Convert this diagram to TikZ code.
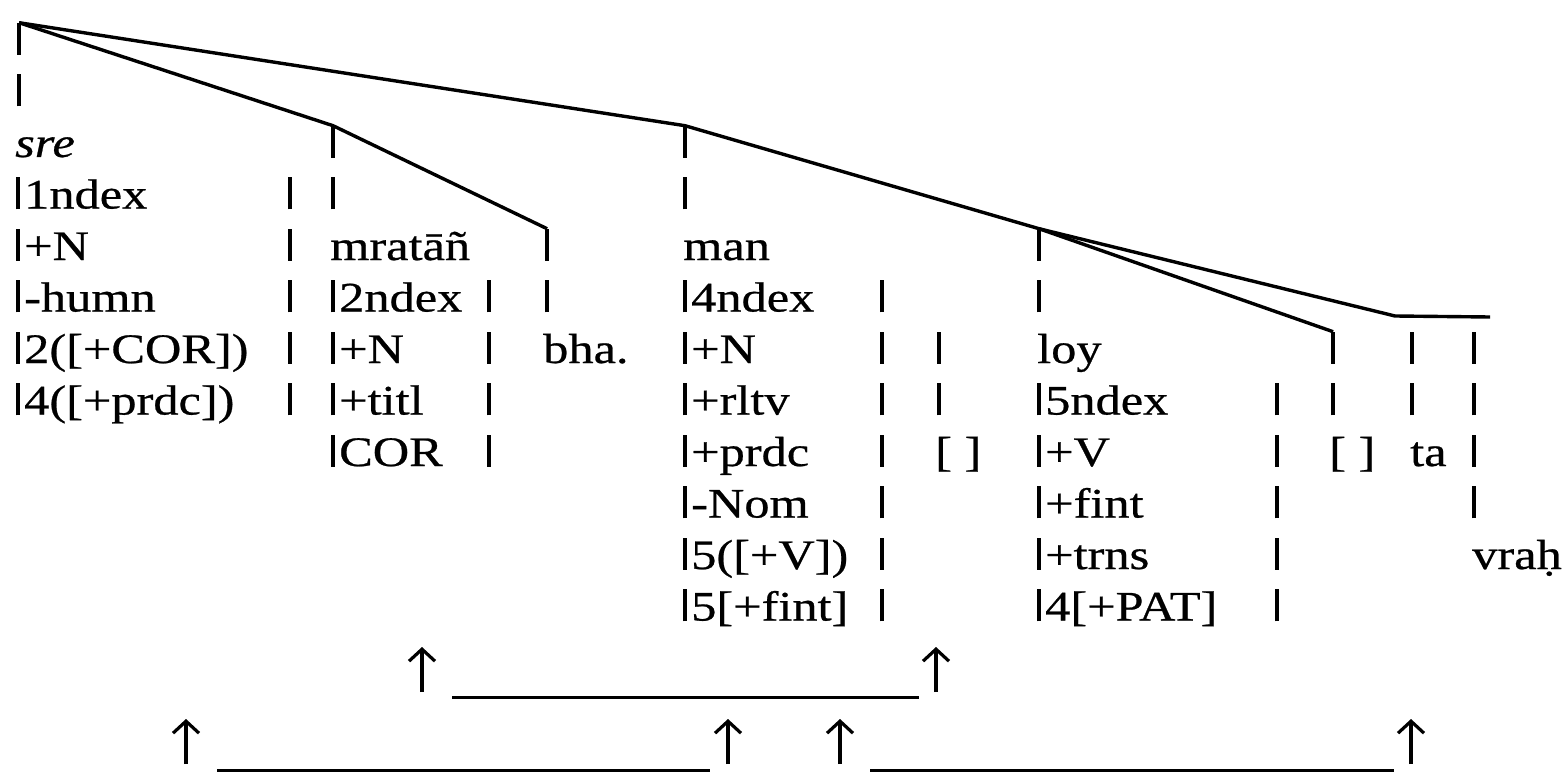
\documentclass[tikz,border=0pt]{standalone}
\usepackage{fontspec}
\setmainfont{Liberation Serif}[FakeStretch=1.2,FakeBold=0.6]
\usetikzlibrary{arrows.meta}
\newcommand\vbar{\rule[-0.02em]{0.09em}{0.76em}}
\newcommand\vb{\vbar\hspace{0.1em}}

\begin{document}
\begin{tikzpicture}[x=1pt,y=-1pt,font=\fontsize{42}{52}\selectfont,
  declare function={rw(\k)=157+51.5*\k;},
  word/.style={anchor=base west,inner sep=0pt},
  tree/.style={line width=3.4pt,line join=round},
  uline/.style={line width=3pt},
  uarr/.style={line width=3.2pt,-{Straight Barb[length=12pt,width=26pt]}}]
\useasboundingbox (0,0) rectangle (1563,773);
\foreach \x/\a/\b/\c in {17/-2/-1/rt,288/1/5/sa,331/0/1/mr,487/3/6/mb,545/2/3/bh,683/0/1/mn,880/3/9/nb,937/4/5/ka,1037/2/3/ly,1275/5/9/lb,1331/4/5/kb,1410/4/5/ta,1472/4/7/vr}
  \foreach \r [count=\i] in {\a,...,\b}
    \node[word] (\c\i) at (\x,{rw(\r)}) {\vbar};
\foreach \x/\r/\t [count=\i] in {15/0/{\textit{sre}},16/1/{\vb 1ndex},16/2/{\vb +N},16/3/{\vb -humn},16/4/{\vb 2([+COR])},16/5/{\vb 4([+prdc])},
  330/2/{mratāñ},331/3/{\vb 2ndex},331/4/{\vb +N},331/5/{\vb +titl},331/6/{\vb COR},543/4/{bha.},
  683/2/{man},683/3/{\vb 4ndex},683/4/{\vb +N},683/5/{\vb +rltv},683/6/{\vb +prdc},683/7/{\vb -Nom},683/8/{\vb 5([+V])},683/9/{\vb 5[+fint]},935/6/{[ ]},
  1037/4/{loy},1037/5/{\vb 5ndex},1037/6/{\vb +V},1037/7/{\vb +fint},1037/8/{\vb +trns},1037/9/{\vb 4[+PAT]},1329/6/{[ ]},1410/6/{ta},1472/8/{vraḥ}}
  \node[word] (w\i) at (\x,{rw(\r)}) {\t};
\coordinate (hz1) at (1395,316);
\coordinate (hz2) at (1490,317);
\draw[tree] (rt1.north) -- (mr1.north) -- (bh1.north);
\draw[tree] (rt1.north) -- (mn1.north) -- (ly1.north) -- (hz1) -- (hz2);
\draw[tree] (ly1.north) -- (kb1.north);
\foreach \x/\y [count=\i] in {422/692,936/692,186/764,728/764,840/764,1411/764}
  {\coordinate (a\i) at (\x,\y); \draw[uarr] (a\i) -- ++(0,-45);}
\coordinate (l1) at (452,697); \coordinate (l2) at (919,697);
\coordinate (l3) at (217,770); \coordinate (l4) at (710,770);
\coordinate (l5) at (870,770); \coordinate (l6) at (1394,770);
\draw[uline] (l1) -- (l2) (l3) -- (l4) (l5) -- (l6);
\end{tikzpicture}
\end{document}
